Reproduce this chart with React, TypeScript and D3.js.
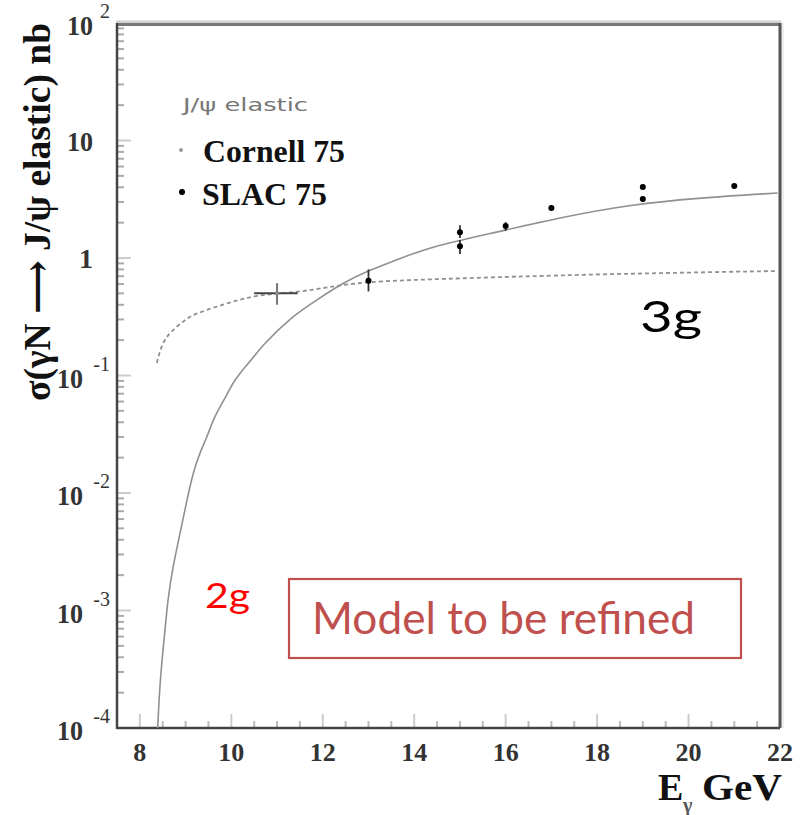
import React, { useRef, useEffect } from 'react';
import * as d3 from 'd3';

// photon energy (GeV) vs cross section (nb)
const twoGluonE = [8.39, 8.44, 8.55, 8.61, 8.72, 8.88, 9.03, 9.16, 9.31, 9.47, 9.6, 9.75, 9.9, 10.03, 10.19, 10.4, 10.69, 11.28, 11.87, 12.43, 13.02, 13.61, 14.33, 15.8, 17.24, 18.7, 20.16, 21.95];
const twoGluonSigma = [0.0001, 0.000256, 0.00068, 0.00123, 0.00234, 0.00457, 0.0087, 0.0148, 0.0219, 0.03, 0.0418, 0.054, 0.068, 0.086, 0.105, 0.13, 0.182, 0.308, 0.44, 0.61, 0.79, 0.96, 1.24, 1.66, 2.23, 2.83, 3.24, 3.57];

const threeGluonE = [8.37, 8.5, 8.72, 9.03, 9.25, 9.97, 10.56, 11.43, 12.15, 12.87, 14.33, 18.05, 21.95];
const threeGluonSigma = [0.128, 0.197, 0.244, 0.308, 0.34, 0.42, 0.485, 0.51, 0.567, 0.625, 0.66, 0.73, 0.775];

// Cornell 75
const cornellE = [11];
const cornellSigma = [0.5];
const cornellELo = [10.5];
const cornellEHi = [11.45];
const cornellLo = [0.4];
const cornellHi = [0.61];

// SLAC 75
const slacE = [13, 15, 15, 16, 17, 19, 19, 21];
const slacSigma = [0.64, 1.66, 1.26, 1.87, 2.67, 4.02, 3.18, 4.1];
const slacLo = [0.52, 1.48, 1.08, 1.7, 2.58, 3.9, 3.07, 3.97];
const slacHi = [0.8, 1.9, 1.42, 2.02, 2.78, 4.14, 3.29, 4.23];

const xTickValues = [8, 10, 12, 14, 16, 18, 20, 22];
const yDecades = [-4, -3, -2, -1, 0, 1, 2];

const App: React.FC = () => {
  const svgRef = useRef<SVGSVGElement>(null);

  useEffect(() => {
    if (!svgRef.current) return;
    const svg = d3.select(svgRef.current);
    svg.selectAll('*').remove();

    const left = 117, right = 780, top = 23, bottom = 728;
    const x = d3.scaleLinear().domain([7.5, 22]).range([left, right]);
    const y = d3.scaleLog().domain([1e-4, 1e2]).range([bottom, top]);

    // clip for curves
    svg.append('defs').append('clipPath').attr('id', 'plot-clip')
      .append('rect').attr('x', left).attr('y', top).attr('width', right - left).attr('height', bottom - top);

    // ticks on y axis (inward)
    const yMinor: number[] = [];
    yDecades.slice(0, -1).forEach(d => {
      for (let k = 2; k <= 9; k++) yMinor.push(k * Math.pow(10, d));
    });
    svg.append('g').selectAll('line').data(yMinor).enter().append('line')
      .attr('x1', left).attr('x2', left + 7)
      .attr('y1', d => y(d)).attr('y2', d => y(d))
      .style('stroke', '#aaa').style('stroke-width', 2);
    svg.append('g').selectAll('line').data(yDecades).enter().append('line')
      .attr('x1', left).attr('x2', left + 14)
      .attr('y1', d => y(Math.pow(10, d))).attr('y2', d => y(Math.pow(10, d)))
      .style('stroke', '#ccc').style('stroke-width', 2);

    // ticks on x axis
    const xMinor = d3.range(7.5, 22.01, 0.5).filter(v => v % 2 !== 0);
    svg.append('g').selectAll('line').data(xMinor).enter().append('line')
      .attr('x1', d => x(d)).attr('x2', d => x(d))
      .attr('y1', bottom).attr('y2', bottom - 7)
      .style('stroke', '#bbb').style('stroke-width', 2);
    svg.append('g').selectAll('line').data(xTickValues).enter().append('line')
      .attr('x1', d => x(d)).attr('x2', d => x(d))
      .attr('y1', bottom).attr('y2', bottom - 14)
      .style('stroke', '#ccc').style('stroke-width', 2);

    // frame
    svg.append('line').attr('x1', left - 1).attr('x2', right + 1).attr('y1', top - 1).attr('y2', top - 1)
      .style('stroke', '#d0d0d0').style('stroke-width', 3);
    svg.append('line').attr('x1', left - 1).attr('x2', right + 1).attr('y1', top + 1.5).attr('y2', top + 1.5)
      .style('stroke', '#777').style('stroke-width', 3);
    svg.append('line').attr('x1', left).attr('x2', left).attr('y1', top).attr('y2', bottom + 1)
      .style('stroke', '#444').style('stroke-width', 2.5);
    svg.append('line').attr('x1', left).attr('x2', right).attr('y1', bottom).attr('y2', bottom)
      .style('stroke', '#444').style('stroke-width', 2.5);
    svg.append('line').attr('x1', right + 2.5).attr('x2', right + 2.5).attr('y1', top).attr('y2', bottom)
      .style('stroke', '#eee').style('stroke-width', 3);
    svg.append('line').attr('x1', right).attr('x2', right).attr('y1', top).attr('y2', bottom)
      .style('stroke', '#555').style('stroke-width', 3);

    // curves
    const line = d3.line<[number, number]>()
      .x(d => x(d[0])).y(d => y(d[1])).curve(d3.curveBasis);
    const curves = svg.append('g').attr('clip-path', 'url(#plot-clip)');
    curves.append('path')
      .attr('d', line(twoGluonE.map((e, i) => [e, twoGluonSigma[i]] as [number, number])))
      .style('fill', 'none').style('stroke', '#909090').style('stroke-width', 1.6);
    curves.append('path')
      .attr('d', line(threeGluonE.map((e, i) => [e, threeGluonSigma[i]] as [number, number])))
      .style('fill', 'none').style('stroke', '#909090').style('stroke-width', 1.8)
      .style('stroke-dasharray', '4,3');

    // Cornell point
    cornellE.forEach((e, i) => {
      svg.append('line').attr('x1', x(cornellELo[i])).attr('x2', x(cornellEHi[i]))
        .attr('y1', y(cornellSigma[i])).attr('y2', y(cornellSigma[i]))
        .style('stroke', '#444').style('stroke-width', 2);
      svg.append('line').attr('x1', x(e)).attr('x2', x(e))
        .attr('y1', y(cornellLo[i])).attr('y2', y(cornellHi[i]))
        .style('stroke', '#777').style('stroke-width', 2);
      svg.append('circle').attr('cx', x(e)).attr('cy', y(cornellSigma[i])).attr('r', 2)
        .style('fill', '#888');
    });

    // SLAC points
    slacE.forEach((e, i) => {
      svg.append('line').attr('x1', x(e)).attr('x2', x(e))
        .attr('y1', y(slacLo[i])).attr('y2', y(slacHi[i]))
        .style('stroke', '#333').style('stroke-width', 1.8);
      svg.append('circle').attr('cx', x(e)).attr('cy', y(slacSigma[i])).attr('r', 3)
        .style('fill', '#000');
    });

    // y tick labels
    const serif = '"Liberation Serif", "DejaVu Serif", serif';
    yDecades.forEach(d => {
      const yy = y(Math.pow(10, d));
      if (d === 0 || d === 1) {
        const t = svg.append('text').attr('x', 93).attr('y', yy + 10).attr('text-anchor', 'end')
          .style('font-family', serif).style('font-weight', 'bold').style('font-size', '28px').style('fill', '#333')
          .text(d === 0 ? '1' : '10');
        if (d === 1) t.attr('textLength', 26).attr('lengthAdjust', 'spacingAndGlyphs');
      } else {
        const base = d > 0 ? 93 : 83;
        svg.append('text').attr('x', base).attr('y', yy + 12).attr('text-anchor', 'end')
          .attr('textLength', 26).attr('lengthAdjust', 'spacingAndGlyphs')
          .style('font-family', serif).style('font-weight', 'bold').style('font-size', '28px').style('fill', '#333')
          .text('10');
        svg.append('text').attr('x', 110).attr('y', yy - 5).attr('text-anchor', 'end')
          .style('font-family', serif).style('font-size', '20px').style('fill', '#333')
          .text(d > 0 ? String(d) : '-' + String(-d));
      }
    });

    // x tick labels
    svg.append('g').selectAll('text').data(xTickValues).enter().append('text')
      .attr('x', d => x(d)).attr('y', 761).attr('text-anchor', 'middle')
      .style('font-family', serif).style('font-weight', 'bold').style('font-size', '26px').style('fill', '#333')
      .text(d => String(d));

    // axis titles
    svg.append('text').attr('x', 658).attr('y', 800)
      .style('font-family', serif).style('font-weight', 'bold').style('font-size', '38px').style('fill', '#111')
      .text('E');
    svg.append('text').attr('x', 683).attr('y', 812)
      .style('font-family', serif).style('font-weight', 'bold').style('font-size', '20px').style('fill', '#555')
      .text('γ');
    svg.append('text').attr('x', 782).attr('y', 800).attr('text-anchor', 'end')
      .attr('textLength', 80).attr('lengthAdjust', 'spacingAndGlyphs')
      .style('font-family', serif).style('font-weight', 'bold').style('font-size', '38px').style('fill', '#111')
      .text('GeV');

    svg.append('text')
      .attr('transform', 'translate(50,212) rotate(-90)')
      .attr('text-anchor', 'middle')
      .attr('textLength', 378).attr('lengthAdjust', 'spacingAndGlyphs')
      .style('font-family', serif).style('font-weight', 'bold').style('font-size', '38px').style('fill', '#111')
      .text('σ(γN ⟶ J/ψ elastic) nb');

    // legend
    svg.append('text').attr('x', 183).attr('y', 111)
      .attr('textLength', 125).attr('lengthAdjust', 'spacingAndGlyphs')
      .style('font-family', '"DejaVu Sans", sans-serif').style('font-size', '17px').style('fill', '#777')
      .text('J/ψ elastic');
    svg.append('circle').attr('cx', 181).attr('cy', 150).attr('r', 2).style('fill', '#999');
    svg.append('text').attr('x', 203).attr('y', 162)
      .attr('textLength', 142).attr('lengthAdjust', 'spacingAndGlyphs')
      .style('font-family', serif).style('font-weight', 'bold').style('font-size', '31px').style('fill', '#111')
      .text('Cornell 75');
    svg.append('circle').attr('cx', 182).attr('cy', 192).attr('r', 3).style('fill', '#000');
    svg.append('text').attr('x', 202).attr('y', 205)
      .attr('textLength', 125).attr('lengthAdjust', 'spacingAndGlyphs')
      .style('font-family', serif).style('font-weight', 'bold').style('font-size', '31px').style('fill', '#111')
      .text('SLAC 75');

    // annotations
    const sans = 'Lato, "Open Sans", sans-serif';
    svg.append('text').attr('x', 640).attr('y', 332)
      .attr('textLength', 62).attr('lengthAdjust', 'spacingAndGlyphs')
      .style('font-family', sans).style('font-size', '42px').style('fill', '#000')
      .text('3g');
    svg.append('text').attr('x', 205).attr('y', 608)
      .attr('textLength', 45).attr('lengthAdjust', 'spacingAndGlyphs')
      .style('font-family', sans).style('font-size', '34px').style('fill', '#ff0000')
      .text('2g');

    svg.append('rect').attr('x', 289).attr('y', 579).attr('width', 452).attr('height', 79)
      .style('fill', '#fff').style('stroke', '#c0504d').style('stroke-width', 2.2);
    svg.append('text').attr('x', 312).attr('y', 634)
      .attr('textLength', 383).attr('lengthAdjust', 'spacingAndGlyphs')
      .style('font-family', sans).style('font-size', '44px').style('fill', '#c0504d')
      .text('Model to be refined');
  }, []);

  return (
    <svg ref={svgRef} width={808} height={815}
      style={{ position: 'absolute', left: 0, top: 0, display: 'block', background: '#fff' }} />
  );
};

export default App;
